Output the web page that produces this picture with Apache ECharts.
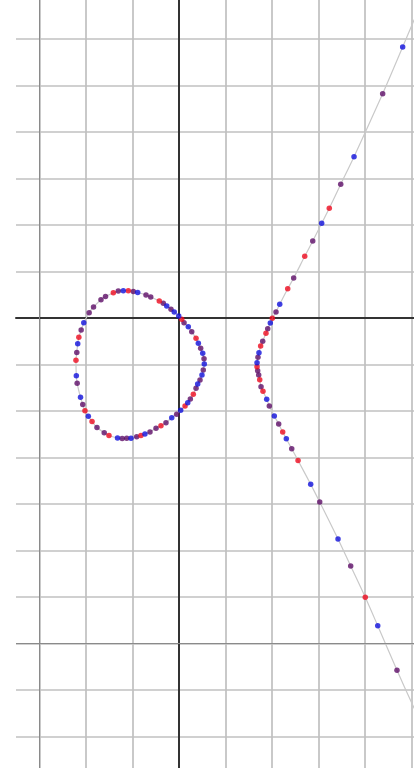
<!DOCTYPE html>
<html>
<head>
<meta charset="utf-8">
<title>y² + y = x³ − x</title>
<script src="https://cdn.jsdelivr.net/npm/echarts@6/dist/echarts.min.js"></script>
<style>
  html, body { margin: 0; padding: 0; background: #ffffff; overflow: hidden; width: 414px; height: 768px; }
  #wrap { position: relative; width: 414px; height: 768px; overflow: hidden; }
  #chart { position: absolute; }
</style>
</head>
<body>
<div id="wrap"><div id="chart"></div></div>
<script>
// Sampled points on the curve y^2 + y = x^3 - x.
// Each entry: [x, y, set]  where set is 'r' (red), 'b' (blue) or 'p' (both sets coincide).
// Bounded oval, walked clockwise starting near its top.
const ovalPoints = [
  [-0.706, 0.272, 'r'], [-0.653, 0.290, 'p'], [-0.599, 0.294, 'b'], [-0.545, 0.294, 'r'],
  [-0.491, 0.285, 'p'], [-0.444, 0.274, 'b'], [-0.355, 0.247, 'p'], [-0.304, 0.226, 'p'],
  [-0.212, 0.183, 'r'], [-0.169, 0.158, 'p'], [-0.132, 0.129, 'b'], [-0.086, 0.094, 'p'],
  [-0.051, 0.065, 'b'], [-0.003, 0.022, 'b'], [0.029, -0.014, 'r'], [0.054, -0.051, 'p'],
  [0.100, -0.094, 'b'], [0.137, -0.147, 'p'], [0.183, -0.218, 'r'], [0.208, -0.272, 'b'],
  [0.233, -0.326, 'p'], [0.255, -0.380, 'b'], [0.269, -0.438, 'p'], [0.272, -0.495, 'b'],
  [0.261, -0.559, 'p'], [0.247, -0.613, 'b'], [0.226, -0.667, 'p'], [0.201, -0.710, 'b'],
  [0.183, -0.756, 'p'], [0.154, -0.820, 'r'], [0.122, -0.871, 'p'], [0.094, -0.911, 'b'],
  [0.065, -0.946, 'r'], [0.018, -0.992, 'b'], [-0.025, -1.035, 'p'], [-0.078, -1.072, 'b'],
  [-0.140, -1.126, 'p'], [-0.194, -1.158, 'r'], [-0.247, -1.186, 'p'], [-0.312, -1.226, 'p'],
  [-0.366, -1.247, 'b'], [-0.409, -1.263, 'r'], [-0.455, -1.276, 'p'], [-0.516, -1.292, 'b'],
  [-0.562, -1.294, 'p'], [-0.611, -1.296, 'p'], [-0.661, -1.290, 'b'], [-0.753, -1.263, 'r'],
  [-0.804, -1.233, 'p'], [-0.882, -1.177, 'p'], [-0.935, -1.113, 'r'], [-0.975, -1.056, 'b'],
  [-1.011, -0.998, 'r'], [-1.035, -0.930, 'p'], [-1.059, -0.853, 'b'], [-1.095, -0.702, 'p'],
  [-1.104, -0.620, 'b'], [-1.108, -0.455, 'r'], [-1.099, -0.371, 'p'], [-1.089, -0.276, 'b'],
  [-1.077, -0.208, 'r'], [-1.052, -0.129, 'p'], [-1.024, -0.052, 'b'], [-0.966, 0.057, 'p'],
  [-0.919, 0.118, 'p'], [-0.839, 0.197, 'p'], [-0.790, 0.231, 'p']
];

// Unbounded branch, from the top of the plot down to the bottom.
const branchPoints = [
  [2.405, 2.914, 'b'], [2.190, 2.412, 'p'], [1.882, 1.734, 'b'], [1.739, 1.438, 'p'],
  [1.616, 1.180, 'r'], [1.534, 1.018, 'b'], [1.438, 0.828, 'p'], [1.352, 0.663, 'r'],
  [1.233, 0.430, 'p'], [1.169, 0.314, 'r'], [1.083, 0.147, 'b'], [1.043, 0.065, 'p'],
  [1.003, -0.003, 'r'], [0.982, -0.054, 'b'], [0.954, -0.115, 'p'], [0.935, -0.165, 'r'],
  [0.900, -0.251, 'p'], [0.878, -0.301, 'r'], [0.860, -0.373, 'b'], [0.849, -0.423, 'p'],
  [0.839, -0.481, 'b'], [0.839, -0.524, 'r'], [0.846, -0.567, 'p'], [0.857, -0.613, 'p'],
  [0.868, -0.663, 'r'], [0.882, -0.739, 'p'], [0.903, -0.788, 'r'], [0.943, -0.874, 'b'],
  [0.971, -0.946, 'p'], [1.025, -1.054, 'b'], [1.072, -1.140, 'p'], [1.115, -1.226, 'r'],
  [1.154, -1.298, 'b'], [1.212, -1.405, 'p'], [1.280, -1.532, 'r'], [1.416, -1.788, 'b'],
  [1.513, -1.978, 'p'], [1.710, -2.376, 'b'], [1.846, -2.667, 'p'], [2.003, -3.003, 'r'],
  [2.137, -3.309, 'b'], [2.344, -3.788, 'p']
];

// Where the branch leaves the plotting area.
const branchTopExit = [2.53, 3.21];
const branchBottomExit = [2.53, -4.20];

// Grid spacing and the two highlighted reference lines.
const gridStep = 0.5;
const markedX = -1.5;
const markedY = -3.5;

// ---- layout ----
const W = 414, H = 768;
const UNIT = 93;            // pixels per unit on both axes
const OX = 179, OY = 318;   // pixel position of the origin in the visible frame
const PLOT_LEFT = 16;       // horizontal rules start here
const PAD = 60;             // the canvas overhangs the frame so the outer rules run off-edge

const X_MIN = -2, X_MAX = 3, Y_MIN = -5, Y_MAX = 3.5;
const CW = W + 2 * PAD, CH = H + 2 * PAD;

const chartEl = document.getElementById('chart');
chartEl.style.left = (-PAD) + 'px';
chartEl.style.top = (-PAD) + 'px';
chartEl.style.width = CW + 'px';
chartEl.style.height = CH + 'px';

const gridTop = PAD + OY - Y_MAX * UNIT;
const gridBottom = CH - (PAD + OY - Y_MIN * UNIT);

const xy = p => [p[0], p[1]];
const pick = (set) => ovalPoints.concat(branchPoints).filter(p => p[2] === set).map(xy);

const ovalPath = ovalPoints.map(xy).concat([xy(ovalPoints[0])]);
const branchPath = [branchTopExit].concat(branchPoints.map(xy), [branchBottomExit]);

const GRID_COLOR = '#c0c0c0';
const AXIS_COLOR = '#333333';
const MARK_COLOR = '#8a8a8a';
const CURVE_COLOR = '#c9c9c9';
const DOT = 5.5;

const hidden = { show: false };

const option = {
  animation: false,
  backgroundColor: '#ffffff',
  grid: [
    // grid 0: vertical rules, y-axis line, dots
    {
      left: PAD + OX + X_MIN * UNIT, right: CW - (PAD + OX + X_MAX * UNIT),
      top: gridTop, bottom: gridBottom, containLabel: false, outerBoundsMode: 'none'
    },
    // grid 1: horizontal rules, x-axis line, curve
    {
      left: PAD + PLOT_LEFT, right: PAD,
      top: gridTop, bottom: gridBottom, containLabel: false, outerBoundsMode: 'none'
    }
  ],
  xAxis: [
    {
      gridIndex: 0, type: 'value', min: X_MIN, max: X_MAX, interval: gridStep,
      axisLine: hidden, axisTick: hidden, axisLabel: hidden,
      splitLine: { show: true, lineStyle: { color: GRID_COLOR, width: 1.7 } }
    },
    {
      gridIndex: 1, type: 'value', min: (PLOT_LEFT - OX) / UNIT, max: (W - OX) / UNIT,
      axisLine: { show: true, onZero: true, lineStyle: { color: AXIS_COLOR, width: 2 } },
      axisTick: hidden, axisLabel: hidden, splitLine: hidden
    }
  ],
  yAxis: [
    {
      gridIndex: 0, type: 'value', min: Y_MIN, max: Y_MAX, interval: gridStep,
      axisLine: { show: true, onZero: true, lineStyle: { color: AXIS_COLOR, width: 2 } },
      axisTick: hidden, axisLabel: hidden, splitLine: hidden
    },
    {
      gridIndex: 1, type: 'value', min: Y_MIN, max: Y_MAX, interval: gridStep,
      axisLine: hidden, axisTick: hidden, axisLabel: hidden,
      splitLine: { show: true, lineStyle: { color: GRID_COLOR, width: 1.7 } }
    }
  ],
  series: [
    {
      name: 'oval', type: 'line', xAxisIndex: 1, yAxisIndex: 1,
      data: ovalPath, smooth: 0.3, symbol: 'none', silent: true, z: 1,
      lineStyle: { color: CURVE_COLOR, width: 1.2 },
      markLine: {
        silent: true, symbol: ['none', 'none'], label: hidden,
        lineStyle: { color: MARK_COLOR, width: 1, type: 'solid' },
        data: [{ yAxis: markedY }]
      }
    },
    {
      name: 'branch', type: 'line', xAxisIndex: 1, yAxisIndex: 1,
      data: branchPath, smooth: 0.3, symbol: 'none', silent: true, z: 1,
      lineStyle: { color: CURVE_COLOR, width: 1.2 }
    },
    {
      name: 'both', type: 'scatter', xAxisIndex: 0, yAxisIndex: 0,
      data: pick('p'), symbolSize: DOT, z: 3,
      itemStyle: { color: '#5e0e68' },
      markLine: {
        silent: true, symbol: ['none', 'none'], label: hidden,
        lineStyle: { color: MARK_COLOR, width: 1, type: 'solid' },
        data: [{ xAxis: markedX }]
      }
    },
    {
      name: 'red', type: 'scatter', xAxisIndex: 0, yAxisIndex: 0,
      data: pick('r'), symbolSize: DOT, z: 3,
      itemStyle: { color: '#ee0a1e' }
    },
    {
      name: 'blue', type: 'scatter', xAxisIndex: 0, yAxisIndex: 0,
      data: pick('b'), symbolSize: DOT, z: 3,
      itemStyle: { color: '#1010dc' }
    }
  ]
};

const chart = echarts.init(chartEl, null, { renderer: 'canvas', width: CW, height: CH });
chart.setOption(option);
</script>
</body>
</html>
